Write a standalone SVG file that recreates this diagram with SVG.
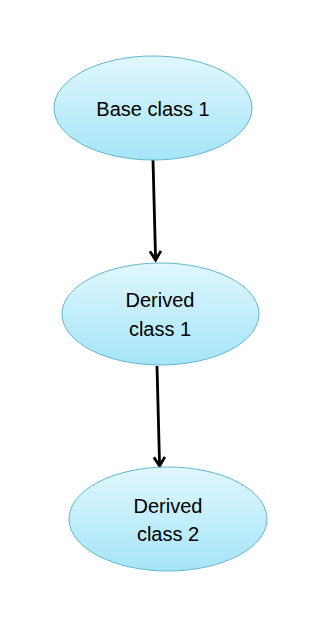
<svg xmlns="http://www.w3.org/2000/svg" width="309" height="631" viewBox="0 0 309 631">
<defs>
<linearGradient id="g" x1="0" y1="0" x2="0" y2="1">
<stop offset="0" stop-color="#e0f7fd"/>
<stop offset="1" stop-color="#a5e5f8"/>
</linearGradient>
<marker id="arr" markerWidth="14" markerHeight="14" refX="10" refY="7" orient="auto" markerUnits="userSpaceOnUse">
<path d="M1,1.5 L10,7 L1,12.5" fill="none" stroke="#000" stroke-width="2.8"/>
</marker>
<style>
.node{fill:url(#g);stroke:#62b6cb;stroke-width:1}
.lbl{font-family:"Liberation Sans",Arial,sans-serif;font-size:20px;fill:#000;text-anchor:middle}
.edge{stroke:#000;stroke-width:2.8;fill:none;marker-end:url(#arr)}
</style>
</defs>
<rect width="309" height="631" fill="#fff"/>
<g id="connectors">
<line class="edge" x1="153" y1="160" x2="155.6" y2="260"/>
<line class="edge" x1="157" y1="366" x2="159.6" y2="466"/>
</g>
<g id="base-class-1">
<ellipse class="node" cx="153" cy="108" rx="99" ry="52"/>
<text class="lbl" x="153" y="116">Base class 1</text>
</g>
<g id="derived-class-1">
<ellipse class="node" cx="160.5" cy="314" rx="98.5" ry="51"/>
<text class="lbl" x="160" y="307">Derived</text>
<text class="lbl" x="160" y="336">class 1</text>
</g>
<g id="derived-class-2">
<ellipse class="node" cx="168" cy="519" rx="99" ry="52"/>
<text class="lbl" x="168" y="513">Derived</text>
<text class="lbl" x="168" y="541">class 2</text>
</g>
</svg>
